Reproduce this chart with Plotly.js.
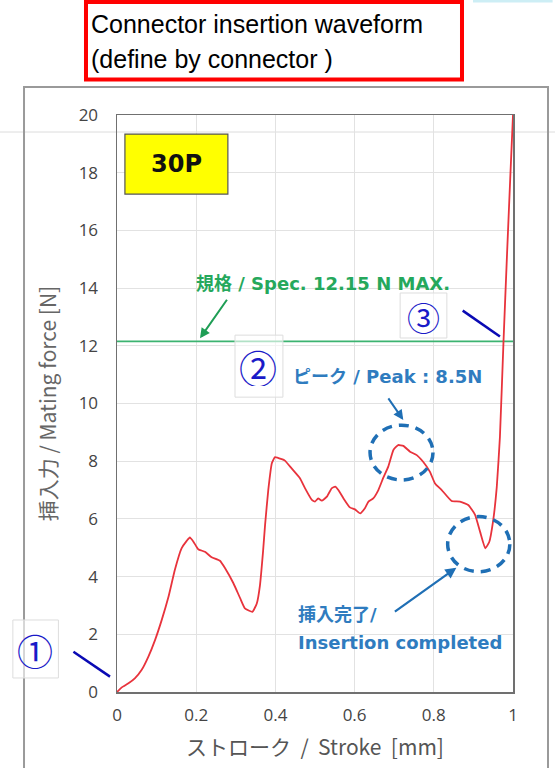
<!DOCTYPE html>
<html>
<head>
<meta charset="utf-8">
<script src="https://cdn.plot.ly/plotly-3.0.1.min.js"></script>
<style>
  html, body { margin: 0; padding: 0; background: #fff; }
  #chart { width: 555px; height: 768px; }
</style>
</head>
<body>
<div id="chart"></div>
<script>
// ---- data ----
const strokeMm = [0, 0.012, 0.029, 0.045, 0.062, 0.079, 0.096, 0.113, 0.130, 0.146, 0.163, 0.176, 0.184, 0.193, 0.205, 0.222, 0.239, 0.260, 0.273, 0.294, 0.311, 0.323, 0.342, 0.353, 0.361, 0.369, 0.374, 0.382, 0.391, 0.399, 0.416, 0.424, 0.441, 0.462, 0.475, 0.492, 0.500, 0.508, 0.517, 0.530, 0.542, 0.551, 0.559, 0.572, 0.588, 0.601, 0.614, 0.626, 0.635, 0.647, 0.660, 0.672, 0.685, 0.698, 0.710, 0.723, 0.740, 0.757, 0.773, 0.790, 0.803, 0.820, 0.845, 0.866, 0.887, 0.904, 0.917, 0.930, 0.940, 0.950, 0.959, 0.967, 0.976, 0.985, 0.993, 1.000];
const forceN = [0, 0.16, 0.30, 0.47, 0.76, 1.22, 1.80, 2.50, 3.30, 4.23, 4.98, 5.24, 5.36, 5.21, 4.95, 4.86, 4.67, 4.55, 4.29, 3.77, 3.25, 2.90, 2.78, 3.07, 3.70, 4.90, 5.80, 7.00, 7.93, 8.14, 8.07, 8.02, 7.75, 7.41, 7.06, 6.66, 6.60, 6.71, 6.63, 6.77, 7.06, 7.12, 7.00, 6.71, 6.40, 6.33, 6.19, 6.37, 6.60, 6.71, 7.00, 7.41, 7.81, 8.39, 8.56, 8.53, 8.33, 8.21, 7.98, 7.64, 7.23, 7.00, 6.62, 6.60, 6.48, 6.15, 5.55, 4.98, 5.20, 5.95, 7.10, 8.85, 12.15, 15.2, 17.8, 20];
const specMax = [12.15, 12.15];
const specX = [0, 1];
const xTickVals = [0, 0.2, 0.4, 0.6, 0.8, 1];
const xTickText = ['0', '0.2', '0.4', '0.6', '0.8', '1'];
const yTickVals = [0, 2, 4, 6, 8, 10, 12, 14, 16, 18, 20];
const titleLines = ['Connector insertion waveform', '(define by connector )'];
const labelSpec = '規格 / Spec. 12.15 N MAX.';
const labelPeak = 'ピーク / Peak : 8.5N';
const labelDone1 = '挿入完了/';
const labelDone2 = 'Insertion completed';
const labelPins = '30P';
const xTitle = 'ストローク\u00a0\u00a0/\u00a0\u00a0Stroke\u00a0\u00a0[mm]';
const yTitle = '挿入力 / Mating force [N]';

const annFont = 'DejaVu Sans, Noto Sans CJK JP, sans-serif';
const cjk = 'Noto Sans CJK JP, sans-serif';
const blueTxt = '#2f7cbf';
const greenTxt = '#25a85c';
const numBlue = '#1a1ac8';

const traces = [
  { x: specX, y: specMax, mode: 'lines', line: { color: '#3cb371', width: 1.8 }, hoverinfo: 'skip', showlegend: false },
  { x: strokeMm, y: forceN, mode: 'lines', line: { color: '#e8333c', width: 1.8, shape: 'spline', smoothing: 0.4 }, showlegend: false }
];

const shapes = [
  { type: 'line', xref: 'paper', yref: 'paper', x0: -0.3, x1: 1.11, y0: 0.9705, y1: 0.9705, line: { color: '#dcdcdc', width: 1 }, layer: 'below' },
  { type: 'rect', xref: 'paper', yref: 'paper', x0: -0.2348, x1: 1.0884, y0: -0.14, y1: 1.0485, line: { color: '#9a9a9a', width: 2 }, fillcolor: 'rgba(0,0,0,0)', layer: 'below' },
  { type: 'rect', xref: 'paper', yref: 'paper', x0: -0.0783, x1: 0.8712, y0: 1.0616, y1: 1.1958, line: { color: '#ff0000', width: 4 }, fillcolor: 'rgba(0,0,0,0)' },
  { type: 'rect', xref: 'paper', yref: 'paper', x0: 0.899, x1: 1.10, y0: 1.195, y1: 1.2, line: { width: 0 }, fillcolor: '#cdeef5' },
  { type: 'rect', xref: 'x', yref: 'y', x0: 0.020, x1: 0.280, y0: 17.26, y1: 19.34, line: { color: '#555', width: 1.2 }, fillcolor: '#ffff00' },
  { type: 'rect', xref: 'x', yref: 'y', x0: 0.298, x1: 0.419, y0: 10.22, y1: 12.37, line: { color: '#dddddd', width: 1 }, fillcolor: 'rgba(255,255,255,0.6)' },
  { type: 'rect', xref: 'x', yref: 'y', x0: 0.715, x1: 0.833, y0: 12.27, y1: 13.83, line: { color: '#dddddd', width: 1 }, fillcolor: 'rgba(255,255,255,0.6)' },
  { type: 'rect', xref: 'paper', yref: 'paper', x0: -0.263, x1: -0.148, y0: 0.0243, y1: 0.1248, line: { color: '#dddddd', width: 1 }, fillcolor: 'rgba(255,255,255,0.6)' },
  { type: 'line', xref: 'paper', yref: 'paper', x0: 0.873, y0: 0.6610, x1: 0.967, y1: 0.6160, line: { color: '#0a0ab4', width: 2.5 } },
  { type: 'line', xref: 'paper', yref: 'paper', x0: -0.110, y0: 0.0698, x1: -0.0177, y1: 0.0266, line: { color: '#0a0ab4', width: 2.5 } },
  { type: 'circle', xref: 'x', yref: 'y', x0: 0.639, x1: 0.798, y0: 7.35, y1: 9.25, line: { color: '#1f6fb5', width: 3.5, dash: '10px,7px' } },
  { type: 'circle', xref: 'x', yref: 'y', x0: 0.835, x1: 0.992, y0: 4.17, y1: 6.08, line: { color: '#1f6fb5', width: 3.5, dash: '10px,7px' } }
];

const annotations = [
  { xref: 'paper', yref: 'paper', x: -0.0707, y: 1.158, xanchor: 'left', yanchor: 'middle', text: titleLines[0], showarrow: false, font: { family: 'Liberation Sans, Arial, sans-serif', size: 25, color: '#000' } },
  { xref: 'paper', yref: 'paper', x: -0.0707, y: 1.097, xanchor: 'left', yanchor: 'middle', text: titleLines[1], showarrow: false, font: { family: 'Liberation Sans, Arial, sans-serif', size: 25, color: '#000' } },
  { xref: 'x', yref: 'y', x: 0.15, y: 18.3, xanchor: 'center', yanchor: 'middle', text: '<b>' + labelPins + '</b>', showarrow: false, font: { family: annFont, size: 24, color: '#111' } },
  { xref: 'x', yref: 'y', x: 0.519, y: 14.15, xanchor: 'center', yanchor: 'middle', text: '<b>' + labelSpec + '</b>', showarrow: false, font: { family: annFont, size: 18, color: greenTxt } },
  { xref: 'x', yref: 'y', x: 0.2096, y: 12.26, ax: 28, ay: -40, text: '', showarrow: true, arrowhead: 2, arrowsize: 1, arrowwidth: 2, arrowcolor: '#1e9e55' },
  { xref: 'x', yref: 'y', x: 0.682, y: 10.95, xanchor: 'center', yanchor: 'middle', text: '<b>' + labelPeak + '</b>', showarrow: false, font: { family: annFont, size: 18, color: blueTxt } },
  { xref: 'x', yref: 'y', x: 0.723, y: 9.43, ax: -16, ay: -23, text: '', showarrow: true, arrowhead: 2, arrowsize: 1, arrowwidth: 2, arrowcolor: '#1f6fb5' },
  { xref: 'x', yref: 'y', x: 0.452, y: 2.70, xanchor: 'left', yanchor: 'middle', text: '<b>' + labelDone1 + '</b>', showarrow: false, font: { family: annFont, size: 18, color: blueTxt } },
  { xref: 'x', yref: 'y', x: 0.452, y: 1.73, xanchor: 'left', yanchor: 'middle', text: '<b>' + labelDone2 + '</b>', showarrow: false, font: { family: annFont, size: 18, color: blueTxt } },
  { xref: 'x', yref: 'y', x: 0.857, y: 4.31, ax: -63, ay: 45, text: '', showarrow: true, arrowhead: 2, arrowsize: 1, arrowwidth: 2.2, arrowcolor: '#1f6fb5' },
  { xref: 'x', yref: 'y', x: 0.356, y: 11.30, xanchor: 'center', yanchor: 'middle', height: 40, text: '②', showarrow: false, font: { family: cjk, size: 38, color: numBlue } },
  { xref: 'x', yref: 'y', x: 0.775, y: 13.0, xanchor: 'center', yanchor: 'middle', height: 34, text: '③', showarrow: false, font: { family: cjk, size: 33, color: numBlue } },
  { xref: 'paper', yref: 'paper', x: -0.207, y: 0.0728, xanchor: 'center', yanchor: 'middle', height: 38, text: '①', showarrow: false, font: { family: cjk, size: 36, color: numBlue } }
];

const layout = {
  width: 555, height: 768,
  margin: { l: 117, r: 42, t: 115, b: 76 },
  paper_bgcolor: '#ffffff',
  plot_bgcolor: 'rgba(0,0,0,0)',
  showlegend: false,
  xaxis: {
    range: [0, 1], tickvals: xTickVals, ticktext: xTickText,
    showgrid: true, gridcolor: '#e2e2e2', gridwidth: 1, zeroline: false,
    showline: true, linecolor: '#707070', linewidth: 1.5, mirror: true, ticks: '',
    tickfont: { family: 'Open Sans, sans-serif', size: 17, color: '#444' },
    ticklabelstandoff: 7,
    title: { text: xTitle, font: { family: cjk, size: 21, color: '#555' }, standoff: 15 }
  },
  yaxis: {
    range: [0, 20], tickvals: yTickVals,
    showgrid: true, gridcolor: '#e2e2e2', gridwidth: 1, zeroline: false,
    showline: true, linecolor: '#707070', linewidth: 1.5, mirror: true, ticks: '',
    tickfont: { family: 'Open Sans, sans-serif', size: 17, color: '#444' },
    ticklabelstandoff: 14,
    title: { text: yTitle, font: { family: cjk, size: 21, color: '#666' }, standoff: 16 }
  },
  shapes: shapes,
  annotations: annotations
};

Plotly.newPlot('chart', traces, layout, { displayModeBar: false, staticPlot: true });
</script>
</body>
</html>
